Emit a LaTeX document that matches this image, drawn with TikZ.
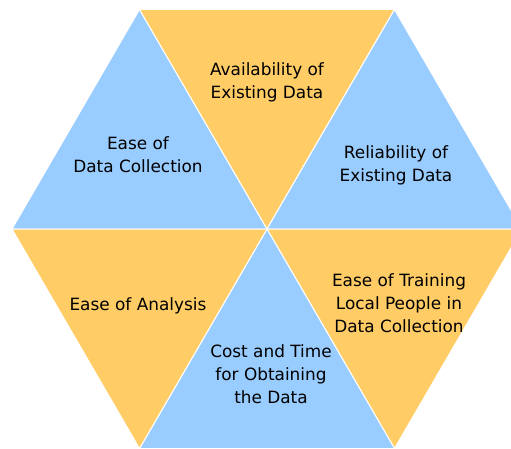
\documentclass[tikz,border=0pt]{standalone}
\usepackage{fontspec}
\setmainfont{DejaVu Sans}
\definecolor{tri_blue}{RGB}{153,204,255}
\definecolor{tri_orange}{RGB}{255,204,102}

\begin{document}
\begin{tikzpicture}[x=1pt,y=-1pt]
    \tikzstyle{cold}=[fill=tri_blue,draw=white,line width=1pt,line join=round]
    \tikzstyle{warm}=[fill=tri_orange,draw=white,line width=1pt,line join=round]
    \tikzstyle{txt}=[align=center,text=black,font={\fontsize{16.9}{22.8}\selectfont}]

    \useasboundingbox (0,0) rectangle (511,449);
    \clip (0,0) rectangle (511,449);

    \coordinate (c)  at (267,229);
    \coordinate (w)  at (12,229);
    \coordinate (nw) at (139.5,9.5);
    \coordinate (ne) at (394.5,9.5);
    \coordinate (e)  at (522,229);
    \coordinate (se) at (394.5,448.5);
    \coordinate (sw) at (139.5,448.5);

    \filldraw[cold] (c) -- (w)  -- (nw) -- cycle;
    \filldraw[warm] (c) -- (nw) -- (ne) -- cycle;
    \filldraw[cold] (c) -- (ne) -- (e)  -- cycle;
    \filldraw[warm] (c) -- (e)  -- (se) -- cycle;
    \filldraw[cold] (c) -- (se) -- (sw) -- cycle;
    \filldraw[warm] (c) -- (sw) -- (w)  -- cycle;

    \node[txt] (avail)    at (267,82)  {Availability of\\Existing Data};
    \node[txt] (collect)  at (138,155) {Ease of\\Data Collection};
    \node[txt] (reliable) at (396,165) {Reliability of\\Existing Data};
    \node[txt] (analysis) at (138,306) {Ease of Analysis};
    \node[txt] (training) at (399,303) {Ease of Training\\Local People in\\Data Collection};
    \node[txt] (cost)     at (271,374) {Cost and Time\\for Obtaining\\the Data};
\end{tikzpicture}
\end{document}
